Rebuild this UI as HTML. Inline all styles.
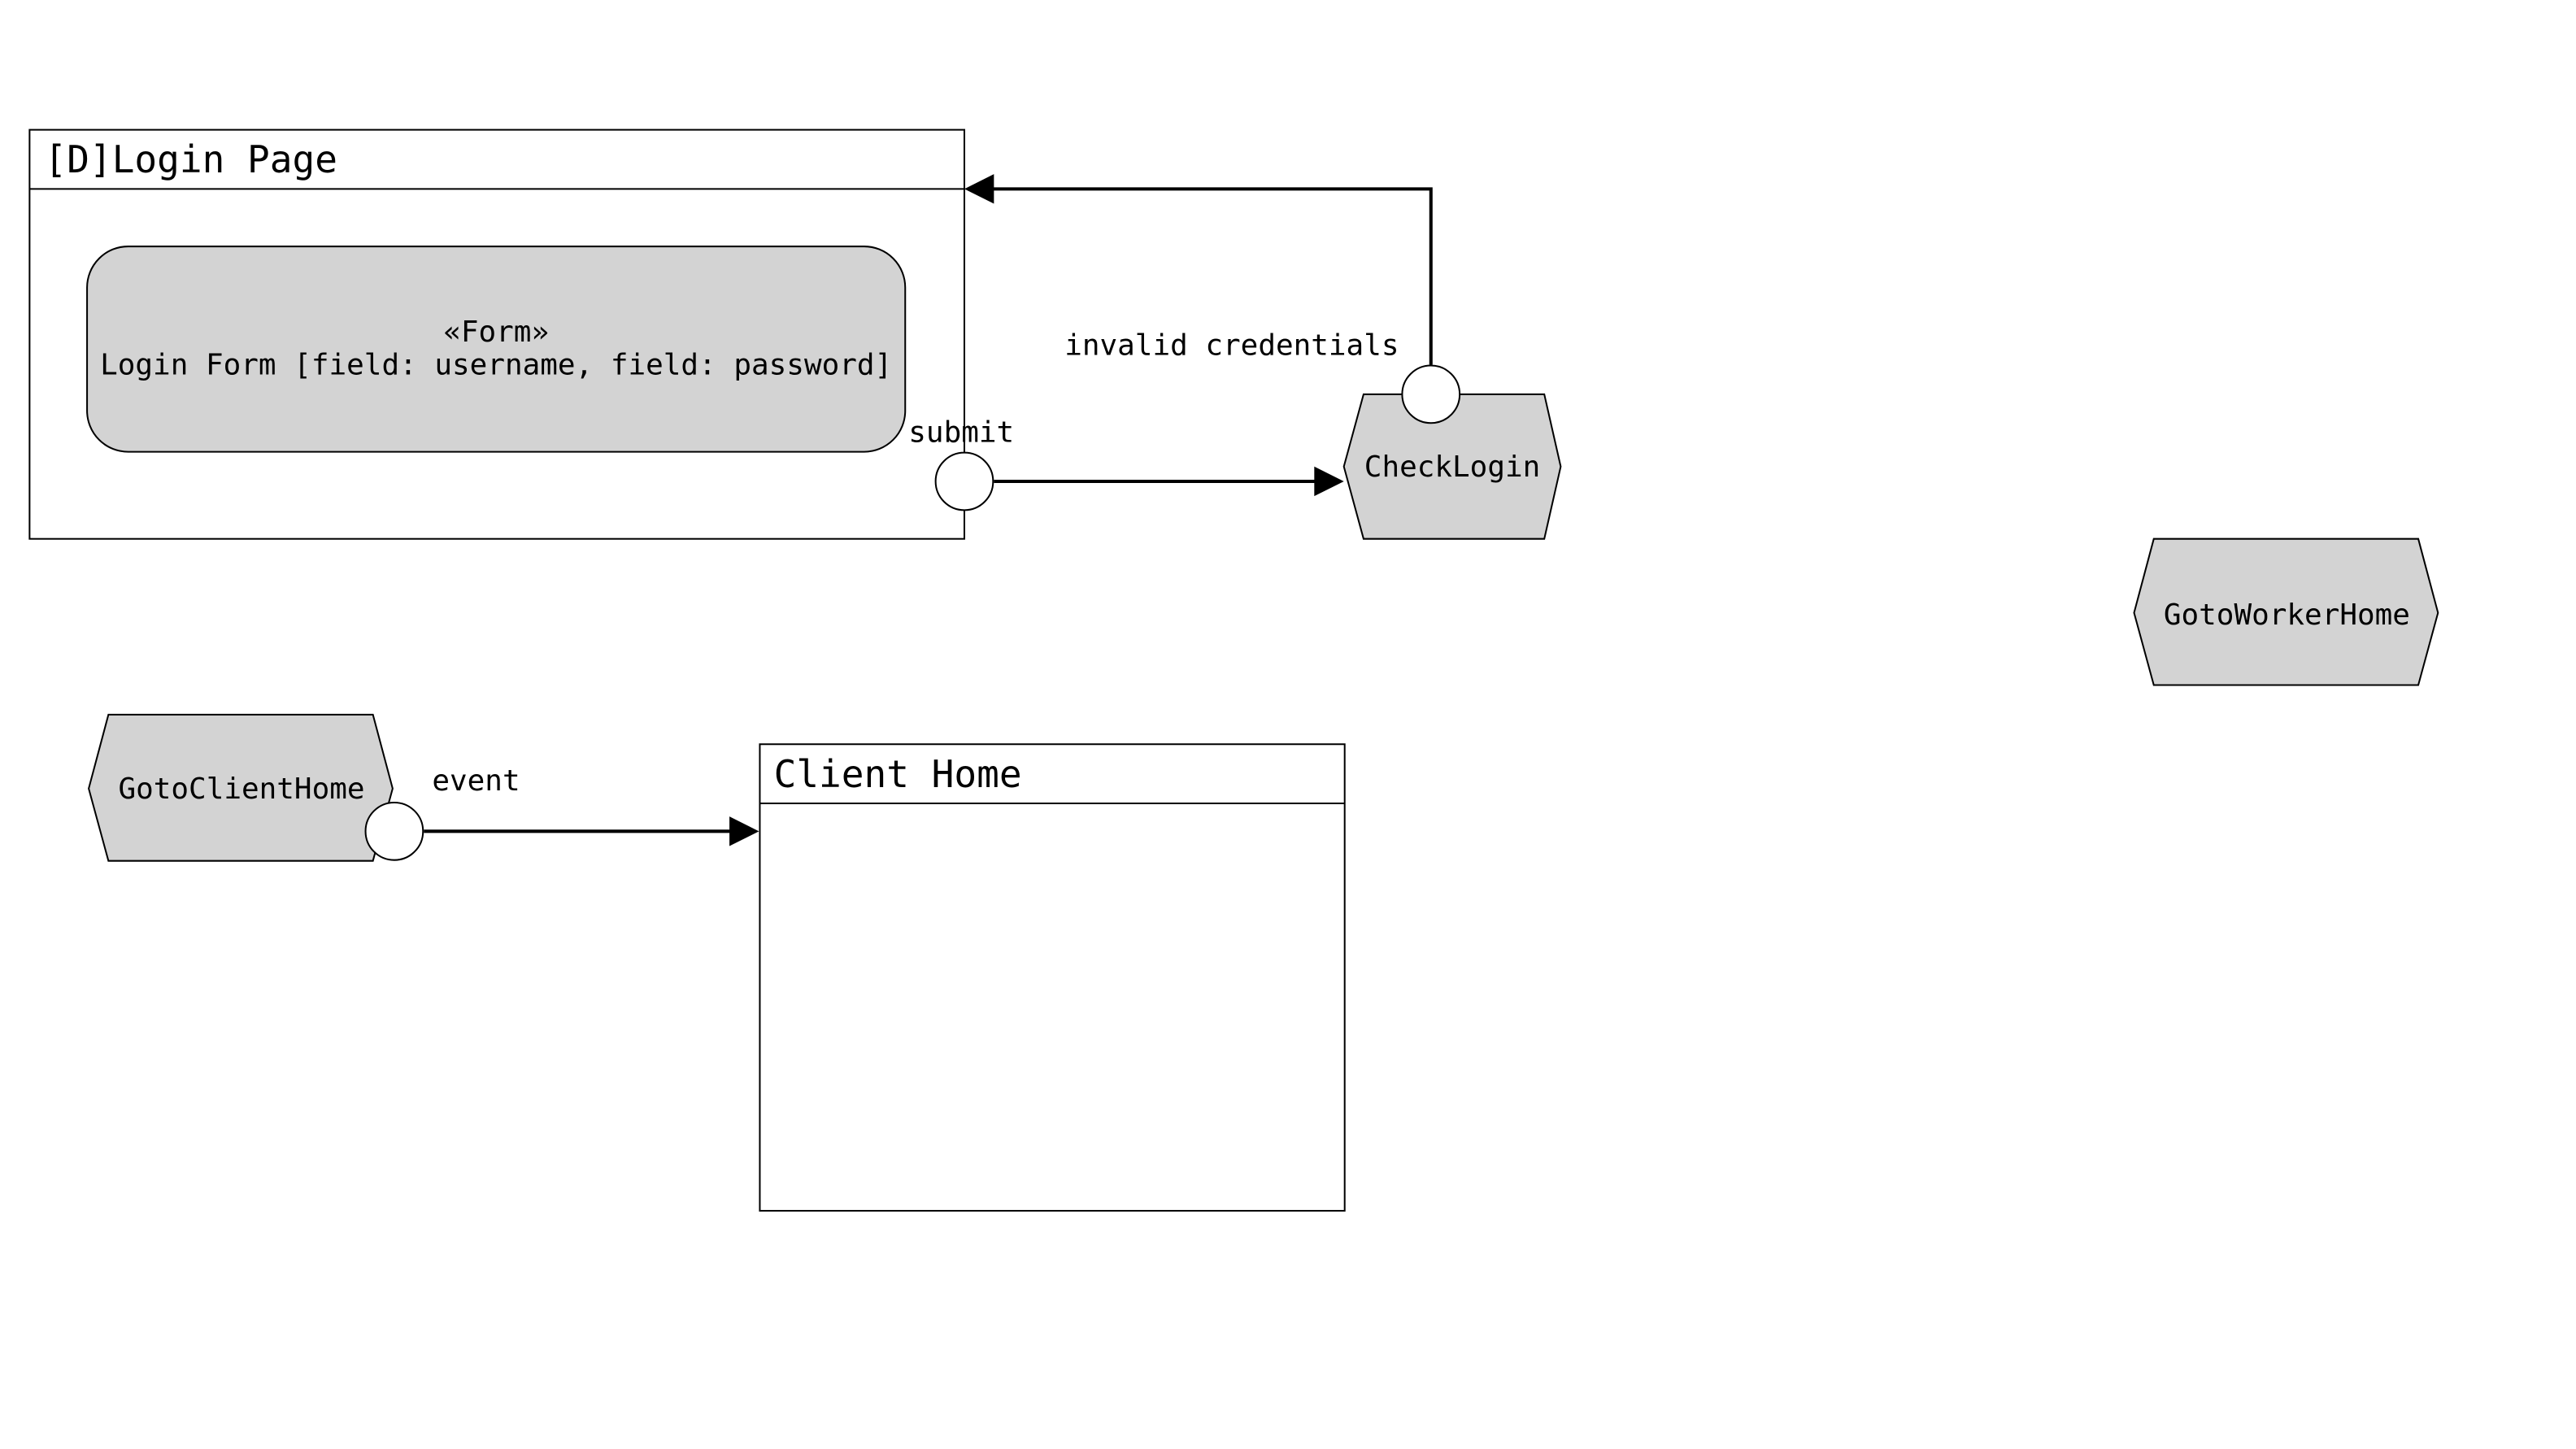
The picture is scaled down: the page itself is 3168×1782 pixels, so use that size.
<!DOCTYPE html>
<html><head><meta charset="utf-8"><style>
html,body{margin:0;padding:0;background:#fff;width:3168px;height:1782px;overflow:hidden}
svg{display:block}
text{font-family:"DejaVu Sans Mono","Liberation Mono",monospace;fill:#000}
</style></head><body>
<svg width="3168" height="1782" viewBox="0 0 1568 882" preserveAspectRatio="none" xmlns="http://www.w3.org/2000/svg">
<rect width="1568" height="882" fill="#fff"/>
<g stroke="#000" stroke-width="1" fill="none">
<rect x="18" y="79" width="569" height="249" fill="#fff"/>
<line x1="18" y1="115" x2="587" y2="115"/>
<rect x="53" y="150" width="498" height="125" rx="25" ry="25" fill="#d3d3d3"/>
<rect x="462.5" y="453" width="356" height="284" fill="#fff"/>
<line x1="462.5" y1="489" x2="818.5" y2="489"/>
<polygon points="830,240 940,240 950,284 940,328 830,328 818,284" fill="#d3d3d3"/>
<polygon points="1311,328 1472,328 1484,373 1472,417 1311,417 1299,373" fill="#d3d3d3"/>
<polygon points="66,435 227,435 239,480 227,524 66,524 54,480" fill="#d3d3d3"/>
</g>
<g stroke="#000" stroke-width="2" fill="none">
<line x1="605" y1="293" x2="802" y2="293"/>
<polyline points="871,222 871,115 603,115"/>
<line x1="258" y1="506" x2="446" y2="506"/>
</g>
<g fill="#000">
<polygon points="818,293 800,284 800,302"/>
<polygon points="587,115 605,106 605,124"/>
<polygon points="462,506 444,497 444,515"/>
</g>
<g stroke="#000" stroke-width="1" fill="#fff">
<circle cx="587" cy="293" r="17.5"/>
<circle cx="871" cy="240" r="17.5"/>
<circle cx="240" cy="506" r="17.5"/>
</g>
<text x="27" y="105" font-size="22.8">[D]Login Page</text>
<text x="471" y="479" font-size="22.8">Client Home</text>
<text x="302" y="208" font-size="17.8" text-anchor="middle">«Form»</text>
<text x="302" y="228" font-size="17.8" text-anchor="middle">Login Form [field: username, field: password]</text>
<text x="553" y="269" font-size="17.8">submit</text>
<text x="648" y="216" font-size="17.8">invalid credentials</text>
<text x="884" y="290" font-size="17.8" text-anchor="middle">CheckLogin</text>
<text x="1392" y="380" font-size="17.8" text-anchor="middle">GotoWorkerHome</text>
<text x="147" y="486" font-size="17.8" text-anchor="middle">GotoClientHome</text>
<text x="263" y="481" font-size="17.8">event</text>
</svg>
</body></html>
